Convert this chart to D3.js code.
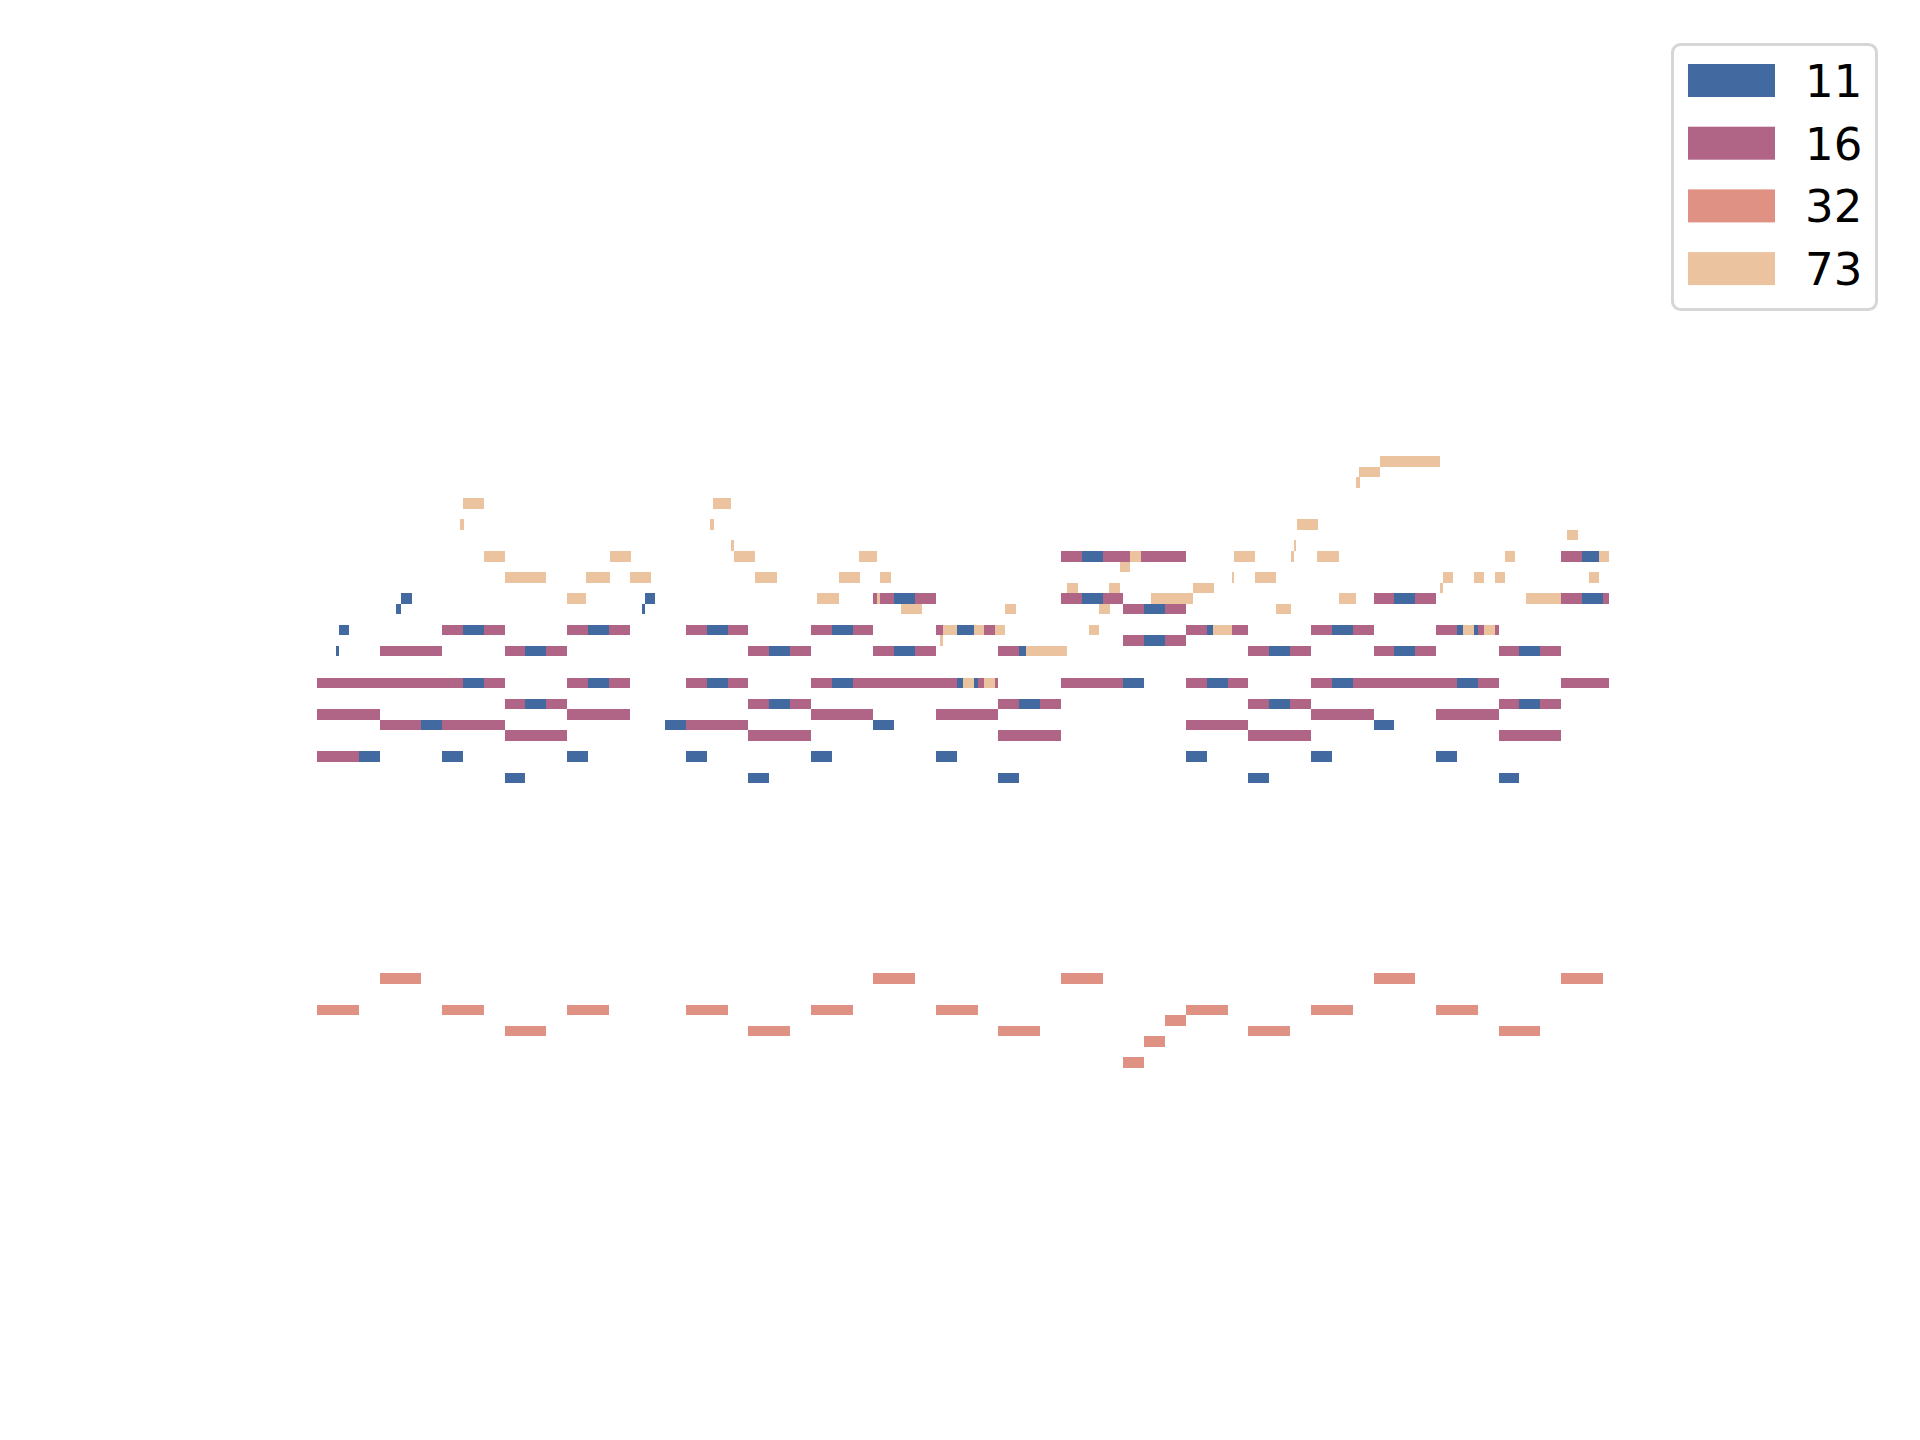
<!DOCTYPE html>
<html>
<head>
<meta charset="utf-8">
<script src="https://cdn.jsdelivr.net/npm/d3@7"></script>
<style>
  html, body { margin: 0; padding: 0; background: #ffffff; }
  svg { display: block; }
</style>
</head>
<body>
<svg id="chart" width="1920" height="1440"></svg>
<script>
// ---------------- DATA ----------------
// Track labels (GM program numbers) shown in the legend
const trackNames = ["11", "16", "32", "73"];

// Notes as [startBeat, endBeat, midiPitch]
const track11Notes = [
  [0.91,1.06,77],[1.06,1.54,79],[2,3,67],[3.79,4.03,81],[4.03,4.56,82],[5,6,70],[6,7,67],[7,8,79],[7,8,74],
  [9,10,65],[10,11,77],[10,11,72],[12,13,67],[13,14,79],[13,14,74],[15.6,15.74,81],[15.74,16.2,82],
  [16.7,17.7,70],[17.7,18.7,67],[18.7,19.7,79],[18.7,19.7,74],[20.7,21.7,65],[21.7,22.7,77],[21.7,22.7,72],
  [23.7,24.7,67],[24.7,25.7,79],[24.7,25.7,74],[26.7,27.7,70],[27.7,28.7,82],[27.7,28.7,77],[29.7,30.7,67],
  [30.7,31.7,79],[30.7,31.7,74],[32.7,33.7,65],[33.7,34.7,77],[33.7,34.7,72],[36.7,37.7,86],[36.7,37.7,82],
  [38.7,39.7,74],[39.7,40.7,81],[39.7,40.7,78],[41.7,42.7,67],[42.7,43.7,79],[42.7,43.7,74],[44.7,45.7,65],
  [45.7,46.7,77],[45.7,46.7,72],[47.7,48.7,67],[48.7,49.7,79],[48.7,49.7,74],[50.7,51.7,70],[51.7,52.7,82],
  [51.7,52.7,77],[53.7,54.7,67],[54.7,55.7,79],[54.7,55.7,74],[56.7,57.7,65],[57.7,58.7,77],[57.7,58.7,72],
  [60.7,61.7,86],[60.7,61.7,82]
];

const track16Notes = [
  [0,7,74],[0,3,71],[0,2,67],[3,6,77],[3,5,70],[6,7,79],[6,9,70],[8,9,79],[8,9,74],[9,10,77],[9,10,72],
  [9,12,69],[11,12,77],[11,12,72],[12,13,79],[12,13,74],[12,15,71],[14,15,79],[14,15,74],
  [17.7,18.7,79],[17.7,18.7,74],[17.7,20.7,70],[19.7,20.7,79],[19.7,20.7,74],[20.7,21.7,77],[20.7,21.7,72],
  [20.7,23.7,69],[22.7,23.7,77],[22.7,23.7,72],[23.7,24.7,79],[23.7,24.7,74],[23.7,26.7,71],[25.7,26.7,79],
  [25.7,30.7,74],[26.7,27.7,82],[26.7,27.7,77],[28.7,29.7,82],[28.7,29.7,77],[29.7,30.7,79],[29.7,32.7,71],
  [31.7,32.7,79],[31.7,32.7,74],[32.7,33.7,77],[32.7,33.7,72],[32.7,35.7,69],[34.7,35.7,77],[34.7,35.7,72],
  [35.7,36.7,86],[35.7,36.7,82],[35.7,38.7,74],[37.7,38.7,86],[37.7,38.7,82],[38.7,41.7,86],[38.7,39.7,81],
  [38.7,39.7,78],[40.7,41.7,81],[40.7,41.7,78],[41.7,42.7,79],[41.7,42.7,74],[41.7,44.7,70],[43.7,44.7,79],
  [43.7,44.7,74],[44.7,45.7,77],[44.7,45.7,72],[44.7,47.7,69],[46.7,47.7,77],[46.7,47.7,72],
  [47.7,48.7,79],[47.7,48.7,74],[47.7,50.7,71],[49.7,50.7,79],[49.7,54.7,74],[50.7,51.7,82],[50.7,51.7,77],
  [52.7,53.7,82],[52.7,53.7,77],[53.7,54.7,79],[53.7,56.7,71],[55.7,56.7,79],[55.7,56.7,74],[56.7,57.7,77],
  [56.7,57.7,72],[56.7,59.7,69],[58.7,59.7,77],[58.7,59.7,72],[59.7,60.7,86],[59.7,60.7,82],[59.7,62.7,74],
  [61.7,62.7,86],[61.7,62.7,82]
];

const track32Notes = [
  [0,2,43],[3,5,46],[6,8,43],[9,11,41],[12,14,43],[17.7,19.7,43],[20.7,22.7,41],[23.7,25.7,43],
  [26.7,28.7,46],[29.7,31.7,43],[32.7,34.7,41],[35.7,37.7,46],[38.7,39.7,38],[39.7,40.7,40],[40.7,41.7,42],
  [41.7,43.7,43],[44.7,46.7,41],[47.7,49.7,43],[50.7,52.7,46],[53.7,55.7,43],[56.7,58.7,41],[59.7,61.7,46]
];

const track73Notes = [
  [6.87,7.05,89],[7,8,91],[8,9,86],[9,11,84],[12,12.9,82],[12.9,14.06,84],[14.06,15.07,86],[15.02,16.03,84],
  [18.86,19.05,89],[19.0,19.87,91],[19.87,20.01,87],[20.0,21.0,86],[21.0,22.07,84],[24.0,25.05,82],
  [25.05,26.06,84],[26.0,26.87,86],[26.87,27.0,82],[27.0,27.54,84],[28.02,29.03,81],[29.9,30.04,78],
  [30.04,30.71,79],[31.0,31.53,74],[31.53,32.0,79],[32.0,32.53,74],[32.53,33.01,79],[33.01,33.54,81],
  [34.02,35.99,77],[36.0,36.52,83],[37.04,37.52,79],[37.52,38.05,81],[38.0,38.53,83],[38.53,39.01,85],
  [39.0,39.54,86],[40.02,42.03,82],[42.03,43.04,83],[42.99,43.91,79],[43.91,44.0,84],[44.0,45.0,86],
  [45.0,46.02,84],[46.02,46.74,81],[46.74,46.88,86],[46.88,46.98,87],[47.02,48.03,89],[47.98,49.04,86],
  [49.04,49.86,82],[49.86,50.05,93],[50.0,51.0,94],[51.0,53.89,95],[53.89,54.03,83],[54.03,54.51,84],
  [54.99,55.52,79],[55.52,56.0,84],[56.0,56.53,79],[56.53,57.0,84],[57.0,57.49,86],[58.01,59.7,82],
  [59.99,60.51,88],[61.04,61.52,84],[61.52,62.0,86]
];

const timeDomain = [0, 62];      // beats shown
const pitchDomain = [38, 96];    // lowest pitch .. highest pitch + 1

// ---------------- STYLE ----------------
const trackColors = ["#426aa0", "#b06586", "#df9183", "#ebc39e"];

// ---------------- DRAW ----------------
const svg = d3.select("#chart");
const x = d3.scaleLinear().domain(timeDomain).range([317, 1609]);
const y = d3.scaleLinear().domain(pitchDomain).range([1067.9, 456]);

const tracks = [track11Notes, track16Notes, track32Notes, track73Notes];

const plot = svg.append("g").attr("class", "plot");
tracks.forEach((notes, i) => {
  plot.append("g")
    .attr("class", "track-" + trackNames[i])
    .selectAll("rect")
    .data(notes)
    .join("rect")
    .attr("x", d => x(d[0]))
    .attr("width", d => x(Math.min(d[1], timeDomain[1])) - x(d[0]))
    .attr("y", d => y(d[2] + 1))
    .attr("height", d => y(d[2]) - y(d[2] + 1))
    .attr("fill", trackColors[i])
    .attr("shape-rendering", "crispEdges");
});

// Legend
const legend = svg.append("g").attr("class", "legend");
legend.append("rect")
  .attr("x", 1672.5).attr("y", 44.5)
  .attr("width", 204).attr("height", 265)
  .attr("rx", 8).attr("ry", 8)
  .attr("fill", "#ffffff")
  .attr("stroke", "#d6d6d6")
  .attr("stroke-width", 3);

const item = legend.selectAll("g.item")
  .data(trackNames)
  .join("g")
  .attr("class", "item")
  .attr("transform", (d, i) => `translate(0, ${i * 62.7})`);

item.append("rect")
  .attr("x", 1688).attr("y", 64)
  .attr("width", 87).attr("height", 33)
  .attr("fill", (d, i) => trackColors[i]);

item.append("text")
  .attr("x", 1805).attr("y", 97)
  .attr("font-family", "DejaVu Sans, sans-serif")
  .attr("font-size", 45)
  .attr("fill", "#000000")
  .text(d => d);
</script>
</body>
</html>
